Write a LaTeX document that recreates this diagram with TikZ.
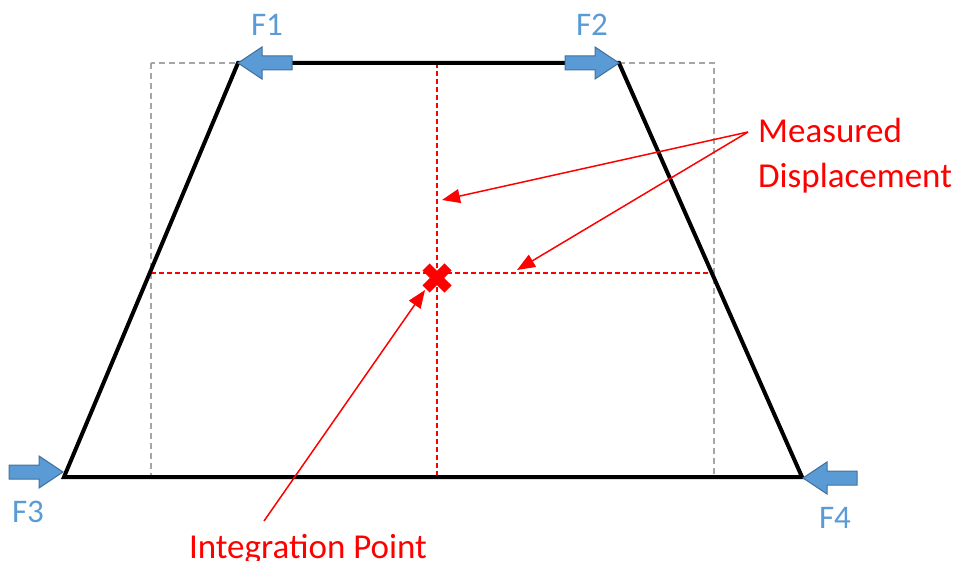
\documentclass[tikz,border=0pt]{standalone}
\usepackage{fontspec}
\setmainfont{Carlito}
\usetikzlibrary{arrows.meta}
\definecolor{fblue}{HTML}{5B9BD5}
\definecolor{fblueedge}{HTML}{41719C}
\definecolor{boxgray}{HTML}{A6A6A6}
\definecolor{mred}{HTML}{FF0000}
\tikzset{
  outline/.style={line width=4pt, black, line join=miter},
  guidebox/.style={boxgray, line width=2pt, dash pattern=on 6pt off 4pt},
  guidered/.style={mred, line width=1.5pt, dash pattern=on 5pt off 3pt},
  callout/.style={mred, line width=1.5pt, -{Triangle[length=18pt,width=14pt]}},
  redlabel/.style={text=mred, font=\fontsize{35}{40}\selectfont, inner sep=0pt},
  forcelabel/.style={text=fblue, font=\fontsize{33}{38}\selectfont, inner sep=0pt, anchor=base},
  blockarrow/.style={fill=fblue, draw=fblueedge, line width=1pt},
  pics/leftarrow/.style={code={
    \path[blockarrow] (0,0) -- (24,-16) -- (24,-7) -- (54,-7) -- (54,7) -- (24,7) -- (24,16) -- cycle;
  }},
  pics/rightarrow/.style={code={
    \path[blockarrow] (0,0) -- (-24,-16) -- (-24,-7) -- (-54,-7) -- (-54,7) -- (-24,7) -- (-24,16) -- cycle;
  }}
}
\begin{document}
\begin{tikzpicture}[x=1pt,y=-1pt]
\useasboundingbox (0,0) rectangle (959,561);
% corner coordinates
\coordinate (tl) at (238,63);
\coordinate (tr) at (619,63);
\coordinate (br) at (802,477);
\coordinate (bl) at (64,477);
\coordinate (gtl) at (151,63);
\coordinate (gbr) at (714,477);
\coordinate (vtop) at (437,63);
\coordinate (vbot) at (437,477);
\coordinate (hl) at (151,273);
\coordinate (hr) at (714,273);
\coordinate (ip) at (437,278);
% gray guide box
\draw[guidebox] (gtl) rectangle (gbr);
% red guide lines
\draw[guidered] (vtop) -- (vbot);
\draw[guidered] (hl) -- (hr);
% trapezoid
\draw[outline] (tl) -- (tr) -- (br) -- (bl) -- cycle;
% integration point mark
\draw[mred, line width=10pt] ([shift={(-11,-11)}]ip) -- ([shift={(11,11)}]ip);
\draw[mred, line width=10pt] ([shift={(-11,11)}]ip) -- ([shift={(11,-11)}]ip);
% block arrows
\pic at (tl) {leftarrow};
\pic at (tr) {rightarrow};
\pic at (63,472) {rightarrow};
\pic at (803,478) {leftarrow};
% force labels
\node[forcelabel] (f1) at (267,36) {F1};
\node[forcelabel] (f2) at (592,36) {F2};
\node[forcelabel] (f3) at (28,522) {F3};
\node[forcelabel] (f4) at (835,528) {F4};
% red labels
\node[redlabel, anchor=base west] (meas) at (758,143) {Measured};
\node[redlabel, anchor=base west] (disp) at (758,188) {Displacement};
\node[redlabel, anchor=base] (intp) at (308,558) {Integration Point};
% callouts
\coordinate (mstart) at (748,132);
\coordinate (vtip) at (442,200);
\coordinate (htip) at (517,270);
\coordinate (istart) at (264,521);
\coordinate (itip) at (425,290);
\draw[callout] (mstart) -- (vtip);
\draw[callout] (mstart) -- (htip);
\draw[callout] (istart) -- (itip);
\end{tikzpicture}
\end{document}
